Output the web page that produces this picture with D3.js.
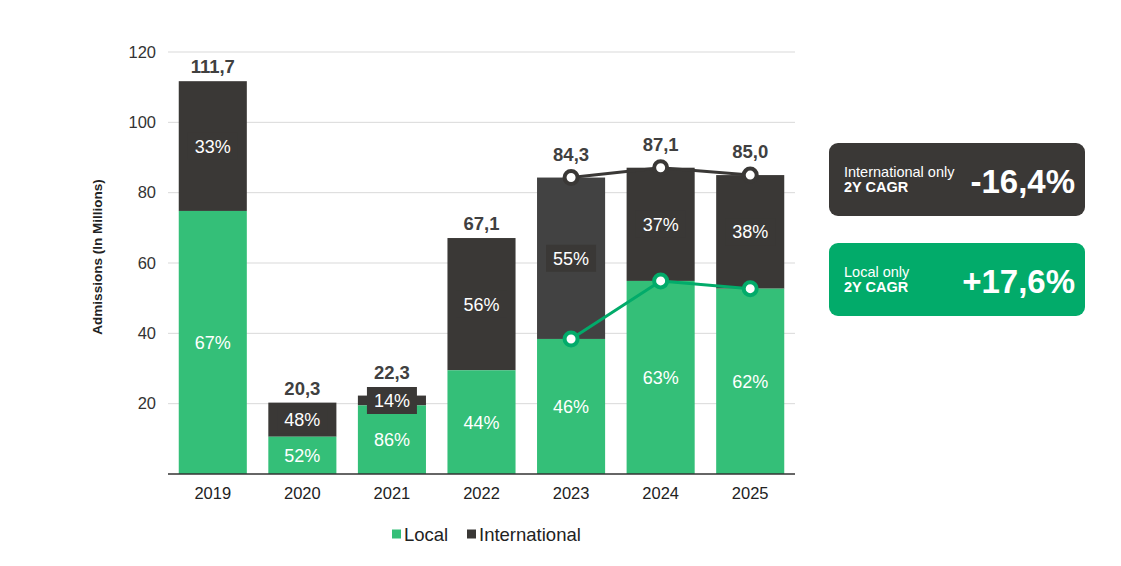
<!DOCTYPE html>
<html>
<head>
<meta charset="utf-8">
<script src="https://cdn.jsdelivr.net/npm/d3@7/dist/d3.min.js"></script>
<style>
  body { margin: 0; background: #fff; }
  svg { font-family: "Liberation Sans", Arial, sans-serif; }
</style>
</head>
<body>
<svg id="chart" width="1121" height="566"></svg>
<script>
// chart data
const years = ["2019", "2020", "2021", "2022", "2023", "2024", "2025"];
const totals = [111.7, 20.3, 22.3, 67.1, 84.3, 87.1, 85.0];
const localValues = [74.8, 10.6, 19.5, 29.5, 38.4, 54.9, 52.7];
const localPct = ["67%", "52%", "86%", "44%", "46%", "63%", "62%"];
const intlPct = ["33%", "48%", "14%", "56%", "55%", "37%", "38%"];
const totalLabels = ["111,7", "20,3", "22,3", "67,1", "84,3", "87,1", "85,0"];
const lineYears = ["2023", "2024", "2025"];
const yTicks = [20, 40, 60, 80, 100, 120];
const cagrLabels = ["International only", "Local only"];
const cagrValues = ["-16,4%", "+17,6%"];

const GREEN = "#34bf78";
const GREEN_DARK = "#02ab6a";
const DARK = "#3a3836";
const DARK_2023 = "#424242";

const svg = d3.select("#chart");
const margin = { left: 168, right: 326, top: 52, bottom: 92 };
const W = 1121, H = 566;

const X = d3.scaleBand()
    .domain(years)
    .range([margin.left, W - margin.right])
    .paddingInner(0.24)
    .paddingOuter(0.12);
const Y = d3.scaleLinear()
    .domain([0, 120])
    .range([H - margin.bottom, margin.top]);

const rows = years.map(function (y, i) {
    return {
        year: y,
        total: totals[i],
        local: localValues[i],
        lp: localPct[i],
        ip: intlPct[i],
        label: totalLabels[i]
    };
});

// gridlines
svg.append("g")
    .selectAll("line")
    .data(yTicks)
    .enter()
    .append("line")
    .attr("x1", margin.left)
    .attr("x2", W - margin.right)
    .attr("y1", d => Y(d))
    .attr("y2", d => Y(d))
    .attr("stroke", "#d9d9d9")
    .attr("stroke-width", 1);

// y tick labels
svg.append("g")
    .selectAll("text")
    .data(yTicks)
    .enter()
    .append("text")
    .attr("x", margin.left - 12)
    .attr("y", d => Y(d))
    .attr("dy", "0.35em")
    .attr("text-anchor", "end")
    .attr("font-size", 16.5)
    .attr("fill", "#333")
    .text(d => d);

// y axis title
svg.append("text")
    .attr("transform", `translate(102,${(Y(0) + Y(120)) / 2 - 6}) rotate(-90)`)
    .attr("text-anchor", "middle")
    .attr("font-size", 13.5)
    .attr("font-weight", "bold")
    .attr("fill", "#222")
    .text("Admissions (In Millions)");

// bars
const bars = svg.append("g");
bars.selectAll("rect.intl")
    .data(rows)
    .enter()
    .append("rect")
    .attr("class", "intl")
    .attr("x", d => X(d.year))
    .attr("width", X.bandwidth())
    .attr("y", d => Y(d.total))
    .attr("height", d => Y(d.local) - Y(d.total))
    .attr("fill", d => d.year === "2023" ? DARK_2023 : DARK);

bars.selectAll("rect.local")
    .data(rows)
    .enter()
    .append("rect")
    .attr("class", "local")
    .attr("x", d => X(d.year))
    .attr("width", X.bandwidth())
    .attr("y", d => Y(d.local))
    .attr("height", d => Y(0) - Y(d.local))
    .attr("fill", GREEN);

// x axis line
svg.append("line")
    .attr("x1", margin.left)
    .attr("x2", W - margin.right)
    .attr("y1", Y(0))
    .attr("y2", Y(0))
    .attr("stroke", "#333")
    .attr("stroke-width", 1.5);

// x tick labels
svg.append("g")
    .selectAll("text")
    .data(years)
    .enter()
    .append("text")
    .attr("x", d => X(d) + X.bandwidth() / 2)
    .attr("y", Y(0) + 25)
    .attr("text-anchor", "middle")
    .attr("font-size", 16.5)
    .attr("fill", "#222")
    .text(d => d);

// segment labels
const mid = d => X(d.year) + X.bandwidth() / 2;
const intlLab = svg.append("g").selectAll("g")
    .data(rows)
    .enter()
    .append("g")
    .attr("transform", d => `translate(${mid(d)},${Y((d.local + d.total) / 2)})`);
intlLab.append("rect")
    .attr("x", -25)
    .attr("y", -13.5)
    .attr("width", 50)
    .attr("height", 27)
    .attr("fill", DARK);
intlLab.append("text")
    .attr("text-anchor", "middle")
    .attr("dy", "0.36em")
    .attr("font-size", 18)
    .attr("fill", "#fff")
    .text(d => d.ip);

svg.append("g").selectAll("text")
    .data(rows)
    .enter()
    .append("text")
    .attr("x", mid)
    .attr("y", d => Y(d.local / 2))
    .attr("text-anchor", "middle")
    .attr("dy", "0.36em")
    .attr("font-size", 18)
    .attr("fill", "#fff")
    .text(d => d.lp);

// total labels (lifted clear of markers / label boxes where needed)
svg.append("g").selectAll("text")
    .data(rows)
    .enter()
    .append("text")
    .attr("x", mid)
    .attr("y", function (d) {
        const lifted = lineYears.includes(d.year) || d.year === "2021";
        return Y(d.total) - (lifted ? 17 : 8);
    })
    .attr("text-anchor", "middle")
    .attr("font-size", 18.5)
    .attr("font-weight", "bold")
    .attr("fill", "#404040")
    .text(d => d.label);

// trend lines 2023-2025
const lineRows = rows.filter(d => lineYears.includes(d.year));
const lineDefs = [
    { key: "total", color: DARK },
    { key: "local", color: GREEN_DARK }
];
lineDefs.forEach(function (def) {
    const line = d3.line()
        .x(d => mid(d))
        .y(d => Y(d[def.key]));
    svg.append("path")
        .datum(lineRows)
        .attr("d", line)
        .attr("fill", "none")
        .attr("stroke", def.color)
        .attr("stroke-width", 3);
    svg.append("g").selectAll("circle")
        .data(lineRows)
        .enter()
        .append("circle")
        .attr("cx", mid)
        .attr("cy", d => Y(d[def.key]))
        .attr("r", 6.5)
        .attr("fill", "#fff")
        .attr("stroke", def.color)
        .attr("stroke-width", 4);
});

// legend
const legendItems = [
    { name: "Local", color: GREEN, x: 392 },
    { name: "International", color: DARK, x: 467 }
];
const lg = svg.append("g").selectAll("g")
    .data(legendItems)
    .enter()
    .append("g")
    .attr("transform", d => `translate(${d.x},534)`);
lg.append("rect")
    .attr("x", 0)
    .attr("y", -4.5)
    .attr("width", 9)
    .attr("height", 9)
    .attr("fill", d => d.color);
lg.append("text")
    .attr("x", 12)
    .attr("dy", "0.36em")
    .attr("font-size", 18.5)
    .attr("fill", "#222")
    .text(d => d.name);

// CAGR boxes
const boxes = svg.append("g").selectAll("g")
    .data(cagrLabels.map((l, i) => ({ label: l, value: cagrValues[i], fill: i === 0 ? DARK : GREEN_DARK })))
    .enter()
    .append("g")
    .attr("transform", (d, i) => `translate(829,${143 + i * 100})`);
boxes.append("rect")
    .attr("width", 256)
    .attr("height", 73)
    .attr("rx", 9)
    .attr("fill", d => d.fill);
boxes.append("text")
    .attr("x", 15)
    .attr("y", 34)
    .attr("font-size", 14.5)
    .attr("fill", "#fff")
    .text(d => d.label);
boxes.append("text")
    .attr("x", 15)
    .attr("y", 49)
    .attr("font-size", 14.5)
    .attr("font-weight", "bold")
    .attr("fill", "#fff")
    .text("2Y CAGR");
boxes.append("text")
    .attr("x", 246)
    .attr("y", 50)
    .attr("text-anchor", "end")
    .attr("font-size", 33)
    .attr("font-weight", "bold")
    .attr("fill", "#fff")
    .text(d => d.value);
</script>
</body>
</html>
